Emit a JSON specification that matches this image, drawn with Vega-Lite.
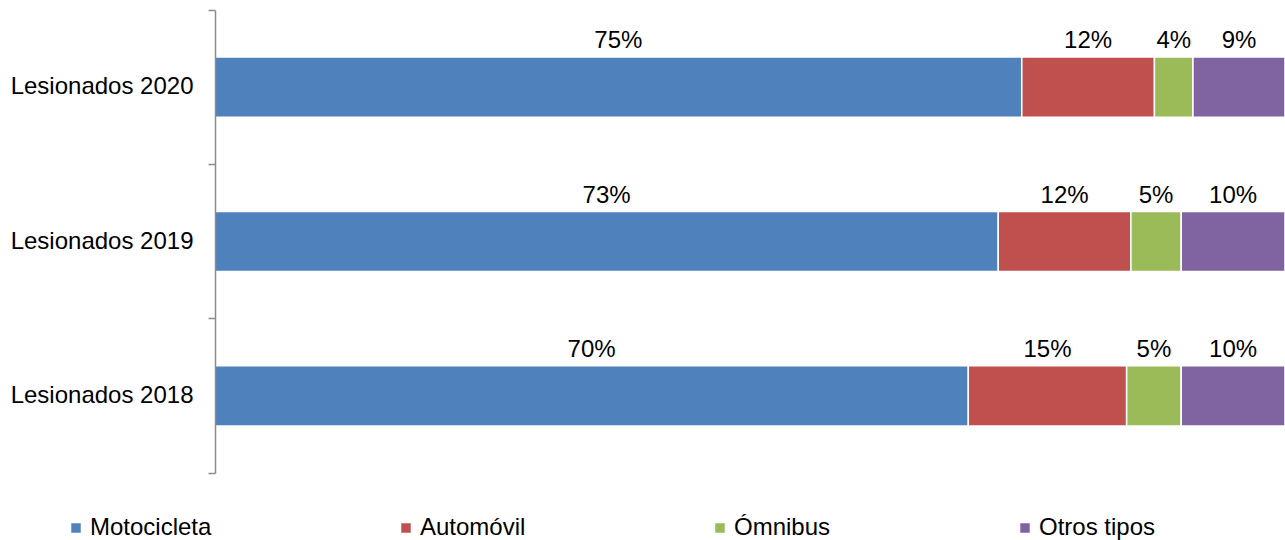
{
  "$schema": "https://vega.github.io/schema/vega-lite/v6.json",
  "width": 1070,
  "height": 463,
  "autosize": {"type": "none"},
  "padding": {"left": 215, "top": 10, "right": 0, "bottom": 67},
  "background": "white",
  "data": {
    "values": [
      {"year": "Lesionados 2020", "type": "Motocicleta", "order": 1, "value": 0.754},
      {"year": "Lesionados 2020", "type": "Automóvil", "order": 2, "value": 0.124},
      {"year": "Lesionados 2020", "type": "Ómnibus", "order": 3, "value": 0.036},
      {"year": "Lesionados 2020", "type": "Otros tipos", "order": 4, "value": 0.086},
      {"year": "Lesionados 2019", "type": "Motocicleta", "order": 1, "value": 0.732},
      {"year": "Lesionados 2019", "type": "Automóvil", "order": 2, "value": 0.124},
      {"year": "Lesionados 2019", "type": "Ómnibus", "order": 3, "value": 0.047},
      {"year": "Lesionados 2019", "type": "Otros tipos", "order": 4, "value": 0.097},
      {"year": "Lesionados 2018", "type": "Motocicleta", "order": 1, "value": 0.704},
      {"year": "Lesionados 2018", "type": "Automóvil", "order": 2, "value": 0.148},
      {"year": "Lesionados 2018", "type": "Ómnibus", "order": 3, "value": 0.051},
      {"year": "Lesionados 2018", "type": "Otros tipos", "order": 4, "value": 0.097}
    ]
  },
  "encoding": {
    "y": {
      "field": "year",
      "type": "nominal",
      "sort": ["Lesionados 2020", "Lesionados 2019", "Lesionados 2018"],
      "scale": {"paddingInner": 0, "paddingOuter": 0},
      "axis": {
        "title": null,
        "zindex": 1,
        "bandPosition": 1,
        "tickExtra": true,
        "domainColor": "#8c8c8c",
        "domainWidth": 1.5,
        "tickColor": "#8c8c8c",
        "tickWidth": 1.5,
        "tickSize": 7,
        "labelFontSize": 24,
        "labelFont": "Liberation Sans",
        "labelColor": "#000000",
        "labelPadding": 15,
        "labelLimit": 300
      }
    }
  },
  "layer": [
    {
      "mark": {"type": "bar", "height": {"band": 0.39}, "stroke": "white", "strokeWidth": 1.5},
      "encoding": {
        "x": {
          "field": "value",
          "type": "quantitative",
          "stack": "zero",
          "scale": {"domain": [0, 1], "nice": false, "zero": true},
          "axis": null
        },
        "color": {
          "field": "type",
          "type": "nominal",
          "scale": {
            "domain": ["Motocicleta", "Automóvil", "Ómnibus", "Otros tipos"],
            "range": ["#4F81BD", "#C0504D", "#9BBB59", "#8064A2"]
          },
          "legend": {
            "title": null,
            "orient": "none",
            "legendX": -151,
            "legendY": 506,
            "direction": "horizontal",
            "columns": 4,
            "columnPadding": 182,
            "symbolType": "square",
            "symbolSize": 90,
            "symbolStrokeWidth": 0,
            "labelFontSize": 24,
            "labelFont": "Liberation Sans",
            "labelColor": "#000000",
            "labelOffset": 2,
            "padding": 0,
            "labelLimit": 300
          }
        },
        "order": {"field": "order", "type": "quantitative"}
      }
    },
    {
      "transform": [
        {"stack": "value", "groupby": ["year"], "sort": [{"field": "order"}], "as": ["v0", "v1"]},
        {"fold": ["v0", "v1"], "as": ["edge", "pos"]},
        {"aggregate": [{"op": "mean", "field": "pos", "as": "mid"}], "groupby": ["year", "type", "value"]}
      ],
      "mark": {
        "type": "text",
        "fontSize": 24,
        "font": "Liberation Sans",
        "color": "#000000",
        "dy": -39,
        "baseline": "alphabetic",
        "align": "center"
      },
      "encoding": {
        "x": {"field": "mid", "type": "quantitative"},
        "text": {"field": "value", "type": "quantitative", "format": ".0%"}
      }
    }
  ],
  "config": {"view": {"stroke": null}}
}
